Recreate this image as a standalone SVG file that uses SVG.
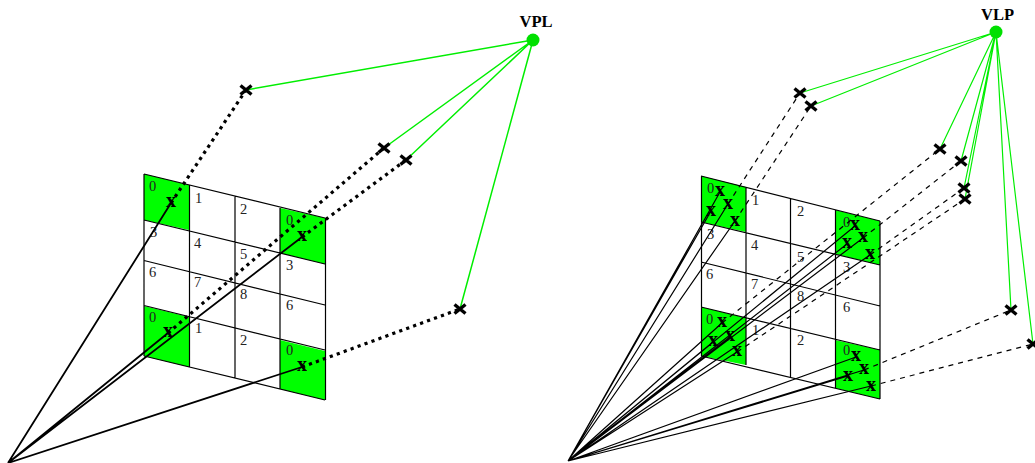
<svg xmlns="http://www.w3.org/2000/svg" xmlns:xlink="http://www.w3.org/1999/xlink" width="1035" height="463" viewBox="0 0 1035 463">
<style>
.cell{fill:#00ff00;stroke:none}
.g{fill:none;stroke:#000;stroke-width:1.2}
.soft{opacity:.995}
.n{font:14.500px "Liberation Serif",serif;fill:#222}
.x{font:bold 20px "Liberation Serif",serif;fill:#000;text-anchor:middle}
.t{font:bold 16.500px "Liberation Serif",serif;fill:#000;text-anchor:middle}
.bl{stroke:#000;stroke-width:1.8;fill:none}
.bs{stroke:#000;stroke-width:1.2;fill:none}
.dot{stroke:#000;stroke-width:3.2;stroke-dasharray:3.2 4.2;fill:none}
.das{stroke:#000;stroke-width:1.2;stroke-dasharray:5 5;fill:none}
.gl{stroke:#00ee00;stroke-width:1.5;fill:none}
.gs{stroke:#00ee00;stroke-width:1.2;fill:none}
.cr{stroke:#000;stroke-width:3.400;fill:none}
</style>
<defs><path id="c" class="cr" d="M-5.5-4.5L5.5 4.5M-5.5 4.5L5.5-4.5"/></defs>

<g id="grid-left" class="soft">
<path class="cell" d="M144 174L189 185V230L144 220ZM280 208L325 218V264L280 253ZM144 306L189 317V367L144 356ZM280 340L325 351V400L280 389Z"/>
<path class="g" d="M144 174L325 218M144 220L325 264M144 260.500L325 305M144 305.500L325 350M144 356L325 400M144 174V356M189.500 185V367M235 196V378M280 208V389M325.500 218V400"/>
<text class="n" x="149" y="191">0</text><text class="n" x="195" y="203">1</text><text class="n" x="240" y="214">2</text><text class="n" x="286" y="225">0</text>
<text class="n" x="150" y="237">3</text><text class="n" x="194" y="248">4</text><text class="n" x="240" y="259">5</text><text class="n" x="286" y="270">3</text>
<text class="n" x="149" y="277">6</text><text class="n" x="194" y="287">7</text><text class="n" x="240" y="299">8</text><text class="n" x="286" y="310">6</text>
<text class="n" x="149" y="322">0</text><text class="n" x="195" y="333">1</text><text class="n" x="240" y="345">2</text><text class="n" x="286" y="355">0</text>
</g>

<g id="grid-right" class="soft">
<path class="cell" d="M701 176L746 187V232L701 222ZM835 210L880 221V265L835 254ZM701 307L746 318V365L701 356ZM835 340L880 350V399L835 388Z"/>
<path class="g" d="M701 176L880 221M701 222L880 265M701 262L880 306M701 307L880 350M701 356L880 399M701.500 176V356M746 187V365M790.500 198V377M835.500 210V388M880 221V399"/>
<text class="n" x="707" y="193">0</text><text class="n" x="752" y="205">1</text><text class="n" x="797" y="216">2</text><text class="n" x="843" y="227">0</text>
<text class="n" x="707" y="239">3</text><text class="n" x="751" y="250">4</text><text class="n" x="797" y="262">5</text><text class="n" x="843" y="272">3</text>
<text class="n" x="706" y="279">6</text><text class="n" x="751" y="289">7</text><text class="n" x="797" y="301">8</text><text class="n" x="843" y="312">6</text>
<text class="n" x="706" y="324">0</text><text class="n" x="752" y="335">1</text><text class="n" x="797" y="345">2</text><text class="n" x="843" y="355">0</text>
</g>

<g id="connectors">
<path class="bl" d="M8 463L171 203M8 463L168 333M8 463L302 237M8 463L302 367"/>
<path class="dot" d="M171 203L246 90M168 333L384 148M302 237L406 160M302 367L460 309"/>
<path class="gl" d="M533 40L246 90M533 40L384 148M533 40L406 160M533 40L460 309"/>
<path class="bs" d="M568 461L720 192M568 461L728 204M568 461L711 211M568 461L735 221M568 461L855 226M568 461L863 238M568 461L847 244M568 461L870 255M568 461L722 323M568 461L730 337M568 461L713 342M568 461L737 352M568 461L856 357M568 461L864 370M568 461L848 376M568 461L871 386"/>
<path class="das" d="M728 204L800 93M735 221L811 106M722 323L940 149M863 238L961 161M870 255L964 188M737 352L965 199M864 370L1011 310M871 386L1033 344"/>
<path class="gs" d="M996 32L800 93M996 32L811 106M996 32L940 149M996 32L961 161M996 32L964 188M996 32L965 199M996 32L1011 310M996 32L1033 344"/>
</g>

<g id="VPL" class="soft"><circle cx="533" cy="40" r="6.500" fill="#00e000"/><text class="t" x="536" y="27">VPL</text></g>
<g id="VLP" class="soft"><circle cx="996" cy="32" r="6.500" fill="#00e000"/><text class="t" x="997.500" y="19.500">VLP</text></g>

<g id="samples-left" class="soft">
<text class="x" x="171" y="207">x</text><text class="x" x="302" y="241">x</text><text class="x" x="168" y="337">x</text><text class="x" x="302" y="371">x</text>
</g>
<g id="samples-right" class="soft">
<text class="x" x="720" y="196">x</text><text class="x" x="728" y="209">x</text><text class="x" x="711" y="216">x</text><text class="x" x="735" y="226">x</text>
<text class="x" x="855" y="230">x</text><text class="x" x="863" y="242">x</text><text class="x" x="847" y="248">x</text><text class="x" x="870" y="259">x</text>
<text class="x" x="722" y="327">x</text><text class="x" x="730" y="341">x</text><text class="x" x="713" y="346">x</text><text class="x" x="737" y="356">x</text>
<text class="x" x="856" y="361">x</text><text class="x" x="864" y="374">x</text><text class="x" x="848" y="381">x</text><text class="x" x="871" y="391">x</text>
</g>
<g id="crosses">
<use xlink:href="#c" x="246" y="90"/><use xlink:href="#c" x="384" y="148"/><use xlink:href="#c" x="406" y="160"/><use xlink:href="#c" x="460" y="309"/>
<use xlink:href="#c" x="800" y="93"/><use xlink:href="#c" x="811" y="106"/><use xlink:href="#c" x="940" y="149"/><use xlink:href="#c" x="961" y="161"/>
<use xlink:href="#c" x="964" y="188"/><use xlink:href="#c" x="965" y="199"/><use xlink:href="#c" x="1011" y="310"/><use xlink:href="#c" x="1033" y="344"/>
</g>
</svg>
